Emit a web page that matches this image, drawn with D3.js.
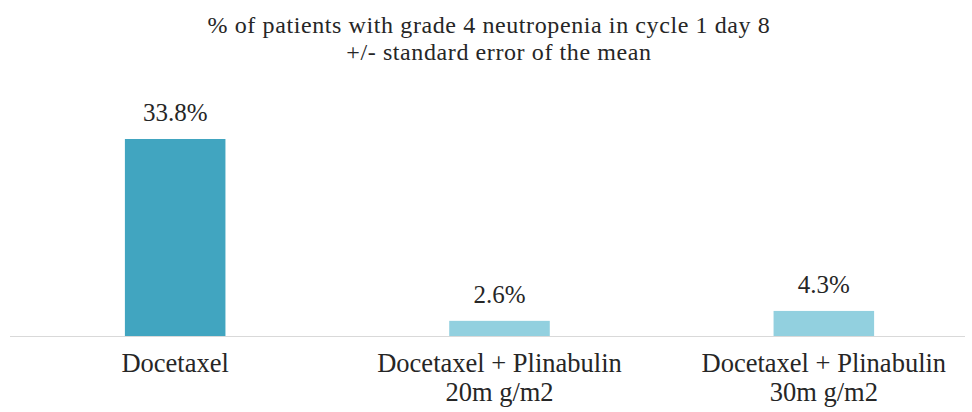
<!DOCTYPE html>
<html>
<head>
<meta charset="utf-8">
<script src="https://cdn.jsdelivr.net/npm/d3@7"></script>
<style>
  body { margin: 0; background: #fff; }
</style>
</head>
<body>
<div id="chart"></div>
<script>
// Data
const categories = ["Docetaxel", "Docetaxel + Plinabulin\n20m g/m2", "Docetaxel + Plinabulin\n30m g/m2"];
const values = [33.8, 2.6, 4.3];
const valueLabels = ["33.8%", "2.6%", "4.3%"];
const barColors = ["#41a5c0", "#92d0df", "#92d0df"];
const titleLines = ["% of patients with grade 4 neutropenia in cycle 1 day 8", "+/- standard error of the mean"];

const width = 972, height = 412;
const baseY = 336;
const font = "'Liberation Serif', 'Times New Roman', 'DejaVu Serif', serif";

const svg = d3.select("#chart").append("svg")
    .attr("width", width)
    .attr("height", height);

// Scales
const x = d3.scaleBand()
    .domain(categories)
    .range([13, 986])
    .paddingInner(0.69)
    .paddingOuter(0.345);

const y = d3.scaleLinear()
    .domain([0, 33.8])
    .range([baseY, 139]);

// Title
svg.append("g").selectAll("text")
    .data(titleLines)
    .enter().append("text")
    .attr("x", (d, i) => i === 0 ? 489 : 499)
    .attr("y", (d, i) => 33 + i * 27)
    .attr("text-anchor", "middle")
    .attr("font-family", font)
    .attr("font-size", 24)
    .attr("letter-spacing", 0.6)
    .attr("fill", "#262626")
    .text(d => d);

// Bars
svg.selectAll("rect")
    .data(values)
    .enter().append("rect")
    .attr("x", (d, i) => x(categories[i]))
    .attr("width", x.bandwidth())
    .attr("y", d => y(d))
    .attr("height", d => baseY - y(d))
    .attr("fill", (d, i) => barColors[i]);

// Baseline
svg.append("line")
    .attr("x1", 10).attr("x2", 965)
    .attr("y1", baseY + 0.5).attr("y2", baseY + 0.5)
    .attr("stroke", "#d9d9d9")
    .attr("stroke-width", 1);

// Value labels
svg.selectAll(".val")
    .data(values)
    .enter().append("text")
    .attr("class", "val")
    .attr("x", (d, i) => x(categories[i]) + x.bandwidth() / 2)
    .attr("y", d => y(d) - 18)
    .attr("text-anchor", "middle")
    .attr("font-family", font)
    .attr("font-size", 25)
    .attr("fill", "#262626")
    .text((d, i) => valueLabels[i]);

// Category labels
const xAxis = svg.append("g");
categories.forEach(function(c) {
    const cx = x(c) + x.bandwidth() / 2;
    const t = xAxis.append("text")
        .attr("x", cx)
        .attr("y", 372)
        .attr("text-anchor", "middle")
        .attr("font-family", font)
        .attr("font-size", 26.5)
        .attr("fill", "#262626");
    c.split("\n").forEach(function(line, j) {
        t.append("tspan")
            .attr("x", cx)
            .attr("dy", j === 0 ? 0 : 29)
            .text(line);
    });
});
</script>
</body>
</html>
